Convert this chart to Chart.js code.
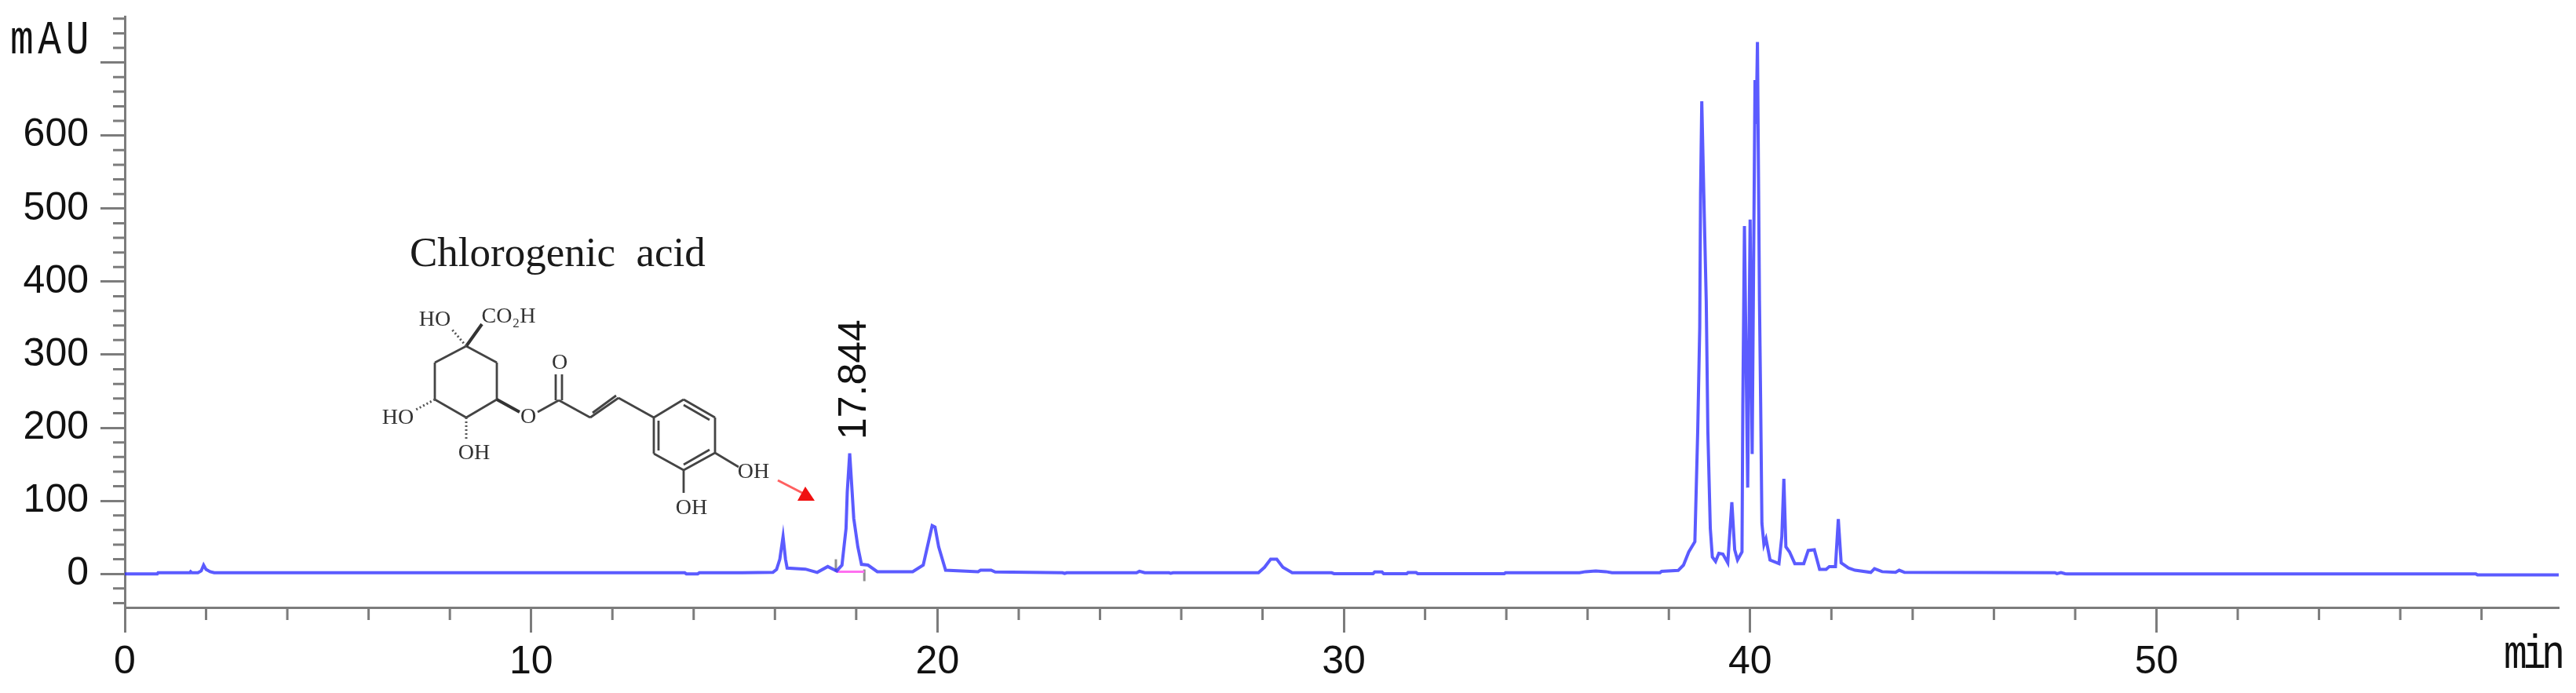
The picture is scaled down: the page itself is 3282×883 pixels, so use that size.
<!DOCTYPE html>
<html>
<head>
<meta charset="utf-8">
<title>Chromatogram</title>
<script src="https://cdn.jsdelivr.net/npm/chart.js@4"></script>
<style>
  html, body { margin: 0; padding: 0; background: #fff; }
  canvas { display: block; filter: blur(0.7px); }
</style>
</head>
<body>
<canvas id="chart" width="3282" height="883"></canvas>
<script>
// retention time (min) and signal (mAU)
const times = [0, 0.8, 0.82, 1.6, 1.62, 1.65, 1.8, 1.88, 1.94, 2.0, 2.1, 2.2, 5, 10, 13.78, 13.82, 14.1, 14.14, 14.9, 15.2, 15.95, 16.04, 16.12, 16.2, 16.26, 16.3, 16.75, 17.04, 17.3, 17.52, 17.65, 17.75, 17.78, 17.84, 17.9, 17.94, 18.04, 18.13, 18.29, 18.52, 19.39, 19.65, 19.78, 19.87, 19.94, 20.03, 20.2, 21.0, 21.06, 21.32, 21.42, 23.08, 23.13, 23.18, 24.9, 24.97, 25.1, 25.7, 25.74, 25.8, 27.9, 28.05, 28.2, 28.35, 28.5, 28.73, 29.7, 29.76, 30.72, 30.76, 30.94, 30.98, 31.55, 31.58, 31.78, 31.82, 33.95, 33.98, 35.8, 35.95, 36.2, 36.45, 36.6, 37.78, 37.82, 38.23, 38.36, 38.49, 38.64, 38.71, 38.76, 38.78, 38.81, 38.86, 38.92, 38.96, 39.02, 39.07, 39.15, 39.23, 39.33, 39.45, 39.55, 39.62, 39.69, 39.8, 39.82, 39.86, 39.94, 40.0, 40.05, 40.12, 40.15, 40.18, 40.23, 40.26, 40.29, 40.34, 40.39, 40.49, 40.71, 40.78, 40.83, 40.88, 40.97, 41.1, 41.32, 41.43, 41.58, 41.71, 41.87, 41.95, 42.1, 42.17, 42.24, 42.42, 42.58, 42.97, 43.06, 43.25, 43.58, 43.67, 43.8, 47.5, 47.55, 47.65, 47.75, 47.8, 57.86, 57.9, 59.9];
const mau = [0, 0, 1.5, 1.5, 3, 1.5, 1.5, 4, 12, 6, 3, 1.5, 1.5, 1.5, 1.5, 0, 0, 1.5, 1.5, 1.5, 2, 6, 20, 51, 20, 8, 6.5, 2, 10, 4, 12, 62, 112, 165, 112, 76, 37, 13, 12, 3, 3, 12, 44, 66, 64, 37, 5, 3, 5, 5, 2.5, 1.5, 0.5, 1.5, 1.5, 3.5, 1.5, 1.5, 0.7, 1.5, 1.5, 9, 20, 20, 9, 1.5, 1.5, 0.3, 0.3, 2.5, 2.5, 0.3, 0.3, 1.8, 1.8, 0.3, 0.3, 1.5, 1.5, 3, 4, 3, 1.5, 1.5, 3.5, 4.7, 12, 30, 44, 195, 338, 520, 647, 520, 374, 195, 62, 23, 17, 28, 27, 15, 98, 33, 19, 30, 230, 476, 118, 485, 164, 676, 616, 728, 374, 230, 69, 40, 48, 19, 14, 51, 130, 37, 30, 14, 14, 32, 33, 6, 6, 10, 10, 75, 15, 8, 5, 2, 7, 3, 2, 5, 2, 1.5, 0.3, 1.8, 0.3, 0, 0, -1.4, -1.4];

// integration baseline and its two start/stop markers
const baselineTimes = [17.52, 18.2];
const baselineMau = [3, 3];
const startMarkTimes = [17.5, 17.5];
const startMarkMau = [3, 20];
const stopMarkTimes = [18.2, 18.2];
const stopMarkMau = [-10, 6];

const xMin = 0;
const xMax = 59.9;
const yMin = -46;
const yMax = 763;
const xLabelEvery = 10;
const yLabelledTicks = [0, 100, 200, 300, 400, 500, 600];

const yUnit = 'mAU';
const xUnit = 'min';
const peakLabel = '17.844';
const compoundName = 'Chlorogenic  acid';

function toPoints(xs, ys) {
  return xs.map((x, i) => ({ x: x, y: ys[i] }));
}

const axisGrey = '#7c7c7c';
const sans = '"Liberation Sans", Arial, sans-serif';
const mono = '"Liberation Mono", monospace';
const serif = '"Liberation Serif", serif';

// short minor ticks; chart.js only has one tick length per scale
const minorTicks = {
  id: 'minorTicks',
  afterDraw(chart) {
    const ctx = chart.ctx;
    const xs = chart.scales.x, ys = chart.scales.y;
    ctx.save();
    ctx.strokeStyle = axisGrey;
    ctx.lineWidth = 3;
    ctx.beginPath();
    xs.ticks.forEach(t => {
      if (t.value % 10 !== 0) {
        const px = xs.getPixelForValue(t.value);
        ctx.moveTo(px, chart.chartArea.bottom);
        ctx.lineTo(px, chart.chartArea.bottom + 16);
      }
    });
    ys.ticks.forEach(t => {
      if (t.value % 100 !== 0) {
        const py = ys.getPixelForValue(t.value);
        ctx.moveTo(chart.chartArea.left, py);
        ctx.lineTo(chart.chartArea.left - 15, py);
      }
    });
    ctx.stroke();
    ctx.restore();
  }
};

// the structure of the compound, pasted onto the plot in the original
const bonds = [
  [594, 441, 633, 462], [633, 462, 633, 509], [633, 509, 594, 532], [594, 532, 554, 509],
  [554, 509, 554, 462], [554, 462, 594, 441],
  [685, 525, 712, 510], [712, 510, 752, 532], [752, 532, 788, 507], [788, 507, 833, 532],
  [833, 532, 871, 509], [871, 509, 911, 532], [911, 532, 911, 577], [911, 577, 871, 599],
  [871, 599, 833, 578], [833, 578, 833, 532], [871, 599, 871, 628], [911, 577, 941, 595],
  [708, 510, 708, 477], [716, 510, 716, 477],
  [755, 526, 785, 504], [871, 516, 904, 535], [871, 592, 904, 573], [839, 574, 839, 536]
];
const boldBonds = [[594, 441, 614, 413], [633, 509, 662, 525]];
const hashedBonds = [[594, 441, 576, 420], [554, 509, 530, 522], [594, 532, 594, 560]];
const atomLabels = [
  ['HO', 554, 408], ['CO\u2082H', 648, 404], ['O', 713, 463], ['O', 673, 532],
  ['HO', 507, 533], ['OH', 604, 578], ['OH', 960, 602], ['OH', 881, 648]
];

const annotations = {
  id: 'annotations',
  afterDraw(chart) {
    const ctx = chart.ctx;
    ctx.save();

    ctx.fillStyle = '#111';
    ctx.textBaseline = 'alphabetic';
    ctx.textAlign = 'left';
    // the instrument software prints its units in a narrow, spaced out font
    ctx.font = '62px ' + mono;
    ctx.save();
    ctx.translate(13, 68);
    ctx.scale(0.8, 1);
    ctx.letterSpacing = '7px';
    ctx.fillText(yUnit, 0, 0);
    ctx.restore();
    ctx.save();
    ctx.translate(3190, 851);
    ctx.scale(0.8, 1);
    ctx.letterSpacing = '-7px';
    ctx.fillText(xUnit, 0, 0);
    ctx.restore();

    ctx.font = '53px ' + serif;
    ctx.fillStyle = '#1a1a1a';
    ctx.fillText(compoundName, 522, 339);

    ctx.save();
    ctx.translate(1103, 560);
    ctx.rotate(-Math.PI / 2);
    ctx.font = '50px ' + sans;
    ctx.fillStyle = '#111';
    ctx.fillText(peakLabel, 0, 0);
    ctx.restore();

    ctx.strokeStyle = '#444';
    ctx.lineWidth = 2.8;
    ctx.beginPath();
    bonds.forEach(b => { ctx.moveTo(b[0], b[1]); ctx.lineTo(b[2], b[3]); });
    ctx.stroke();

    ctx.lineWidth = 4;
    ctx.strokeStyle = '#333';
    ctx.beginPath();
    boldBonds.forEach(b => { ctx.moveTo(b[0], b[1]); ctx.lineTo(b[2], b[3]); });
    ctx.stroke();

    ctx.lineWidth = 3;
    ctx.strokeStyle = '#555';
    ctx.setLineDash([2, 3]);
    ctx.beginPath();
    hashedBonds.forEach(b => { ctx.moveTo(b[0], b[1]); ctx.lineTo(b[2], b[3]); });
    ctx.stroke();
    ctx.setLineDash([]);

    ctx.font = '28px ' + serif;
    ctx.fillStyle = '#333';
    ctx.textAlign = 'center';
    ctx.textBaseline = 'middle';
    atomLabels.forEach(l => ctx.fillText(l[0], l[1], l[2]));

    // red arrow to the peak
    ctx.strokeStyle = '#ff6060';
    ctx.lineWidth = 3;
    ctx.beginPath();
    ctx.moveTo(991, 612);
    ctx.lineTo(1022, 628);
    ctx.stroke();
    ctx.fillStyle = '#f01010';
    ctx.beginPath();
    ctx.moveTo(1016, 638);
    ctx.lineTo(1038, 638);
    ctx.lineTo(1026, 620);
    ctx.closePath();
    ctx.fill();

    ctx.restore();
  }
};

new Chart(document.getElementById('chart'), {
  type: 'line',
  data: {
    datasets: [
      { data: toPoints(times, mau), borderColor: 'rgba(45, 45, 255, 0.78)', borderWidth: 4 },
      { data: toPoints(baselineTimes, baselineMau), borderColor: '#ff70f0', borderWidth: 3 },
      { data: toPoints(startMarkTimes, startMarkMau), borderColor: '#909090', borderWidth: 3 },
      { data: toPoints(stopMarkTimes, stopMarkMau), borderColor: '#909090', borderWidth: 3 }
    ]
  },
  options: {
    responsive: false,
    animation: false,
    devicePixelRatio: 1,
    parsing: false,
    layout: { padding: { top: 21, right: 22, left: 0, bottom: 0 } },
    elements: { point: { radius: 0 }, line: { tension: 0 } },
    plugins: { legend: { display: false }, tooltip: { enabled: false } },
    scales: {
      x: {
        type: 'linear',
        min: xMin,
        max: xMax,
        afterFit(scale) {
          scale.height = 109;
          scale.paddingLeft = 0;
          scale.paddingRight = 0;
        },
        border: { color: axisGrey, width: 3 },
        grid: {
          drawOnChartArea: false,
          tickLength: 32,
          tickWidth: 3,
          tickColor: ctx => (ctx.tick && ctx.tick.value % 10 === 0 ? axisGrey : 'rgba(0,0,0,0)')
        },
        ticks: {
          stepSize: 2,
          autoSkip: false,
          includeBounds: false,
          maxRotation: 0,
          padding: 8,
          color: '#111',
          font: { family: sans, size: 50 },
          callback: v => (v % xLabelEvery === 0 ? String(v) : '')
        }
      },
      y: {
        type: 'linear',
        min: yMin,
        max: yMax,
        afterFit(scale) {
          scale.width = 159;
          scale.paddingTop = 0;
          scale.paddingBottom = 0;
        },
        border: { color: axisGrey, width: 3 },
        grid: {
          drawOnChartArea: false,
          tickLength: 31,
          tickWidth: 3,
          tickColor: ctx => (ctx.tick && ctx.tick.value % 100 === 0 ? axisGrey : 'rgba(0,0,0,0)')
        },
        ticks: {
          stepSize: 20,
          autoSkip: false,
          includeBounds: false,
          padding: 15,
          color: '#111',
          font: { family: sans, size: 50 },
          callback: v => (yLabelledTicks.includes(v) ? String(v) : '')
        }
      }
    }
  },
  plugins: [minorTicks, annotations]
});
</script>
</body>
</html>
